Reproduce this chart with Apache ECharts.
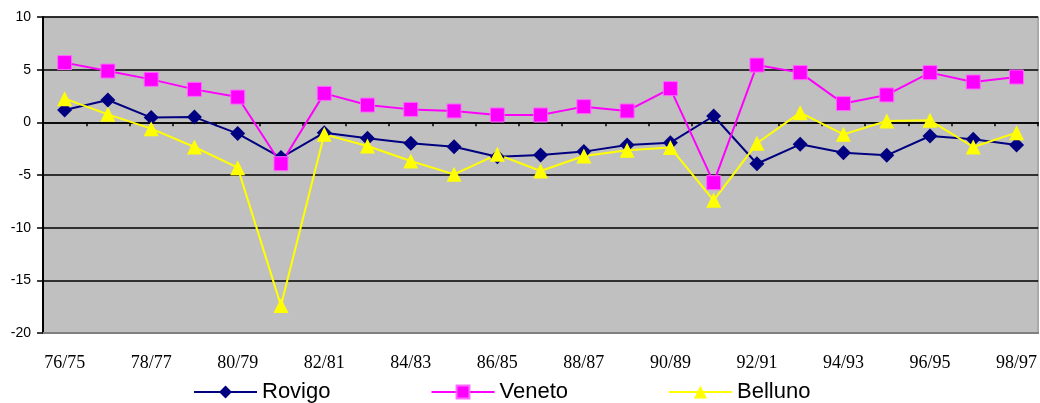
<!DOCTYPE html>
<html><head><meta charset="utf-8">
<script src="https://cdn.jsdelivr.net/npm/echarts@6/dist/echarts.min.js"></script>
<style>html,body{margin:0;padding:0;background:#fff}#c{width:1040px;height:403px}</style>
</head><body><div id="c"></div>
<script>
const categories = ['76/75','77/76','78/77','79/78','80/79','81/80','82/81','83/82','84/83','85/84','86/85','87/86','88/87','89/88','90/89','91/90','92/91','93/92','94/93','95/94','96/95','97/96','98/97'];
const rovigo  = [1.17, 2.12, 0.45, 0.5, -1.07, -3.35, -0.98, -1.52, -1.99, -2.31, -3.26, -3.1, -2.78, -2.15, -1.93, 0.6, -3.93, -2.09, -2.88, -3.13, -1.3, -1.61, -2.15];
const veneto  = [5.67, 4.87, 4.08, 3.13, 2.4, -3.93, 2.75, 1.64, 1.23, 1.08, 0.7, 0.7, 1.49, 1.08, 3.2, -5.73, 5.44, 4.72, 1.78, 2.6, 4.72, 3.83, 4.3];
const belluno = [2.25, 0.76, -0.6, -2.34, -4.3, -17.4, -1.14, -2.25, -3.67, -4.94, -3.04, -4.62, -3.2, -2.66, -2.4, -7.4, -1.99, 0.92, -1.14, 0.12, 0.19, -2.34, -0.98];
const yTicks = {min: -20, max: 10, interval: 5};

const chart = echarts.init(document.getElementById('c'), null, {renderer: 'canvas'});
chart.setOption({
  animation: false,
  backgroundColor: '#fff',
  grid: {left: 43, right: 0, top: 17, bottom: 70, show: true, backgroundColor: '#C0C0C0', borderColor: '#808080', borderWidth: 1},
  legend: {
    left: 188, top: 376, itemGap: 100, itemWidth: 63, itemHeight: 16,
    textStyle: {fontFamily: 'Liberation Sans', fontSize: 22, color: '#000'},
    data: ['Rovigo', 'Veneto', 'Belluno']
  },
  xAxis: [{
    type: 'category', data: categories, boundaryGap: true,
    axisLine: {onZero: false, lineStyle: {color: '#808080', width: 2}},
    axisTick: {show: false},
    axisLabel: {interval: 1, margin: 21, fontFamily: 'Liberation Serif', fontSize: 18, color: '#000'},
    splitLine: {show: false}
  }, {
    type: 'category', data: categories, boundaryGap: true, position: 'bottom',
    axisLine: {onZero: true, lineStyle: {color: '#000', width: 1.5}},
    axisTick: {show: true, interval: 0, length: 4, lineStyle: {color: '#000', width: 1.5}},
    axisLabel: {show: false},
    splitLine: {show: false}
  }],
  yAxis: {
    type: 'value', min: yTicks.min, max: yTicks.max, interval: yTicks.interval,
    axisLine: {show: true, lineStyle: {color: '#000', width: 2}},
    axisTick: {show: true, length: 6, lineStyle: {color: '#000', width: 1.5}},
    axisLabel: {fontFamily: 'Liberation Sans', fontSize: 14, color: '#000', margin: 12},
    splitLine: {show: true, lineStyle: {color: '#000', width: 1.5}}
  },
  series: [{
    name: 'Rovigo', type: 'line', data: rovigo, symbol: 'diamond', symbolSize: 15,
    lineStyle: {color: '#000080', width: 2}, itemStyle: {color: '#000080'}
  }, {
    name: 'Veneto', type: 'line', data: veneto, symbol: 'rect', symbolSize: 14,
    lineStyle: {color: '#FF00FF', width: 2}, itemStyle: {color: '#FF00FF', borderColor: '#FF66FF', borderWidth: 1}
  }, {
    name: 'Belluno', type: 'line', data: belluno, symbol: 'triangle', symbolSize: 15,
    lineStyle: {color: '#FFFF00', width: 2}, itemStyle: {color: '#FFFF00'}
  }]
});
</script></body></html>
